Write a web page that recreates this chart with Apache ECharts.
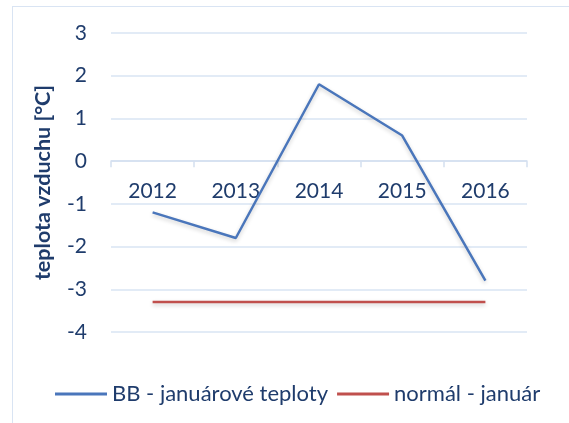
<!DOCTYPE html>
<html>
<head>
<meta charset="utf-8">
<script src="https://cdn.jsdelivr.net/npm/echarts@6/dist/echarts.min.js"></script>
<style>
  html, body { margin: 0; padding: 0; background: #fff; }
  #frame { position: absolute; left: 12px; top: 6px; width: 620px; height: 480px;
           border: 1.5px solid #d9e4f3; }
  #chart { position: absolute; left: 0; top: 0; width: 569px; height: 423px; }
</style>
</head>
<body>
<div id="frame"></div>
<div id="chart"></div>
<script>
// roky
var years = ['2012', '2013', '2014', '2015', '2016'];
// priemerne januarove teploty v BB
var bbJanuary = [-1.2, -1.8, 1.8, 0.6, -2.8];
// dlhodoby normal pre januar
var normalJanuary = [-3.3, -3.3, -3.3, -3.3, -3.3];
// rozsah osi y
var yMin = -4, yMax = 3;

var textColor = '#1f3c6c';
var fontFam = 'Lato, "Open Sans", sans-serif';

var gridTop = 33, gridBottom = 91, chartH = 423;
// os x lezi na nule -> posun od spodneho okraja mriezky
var plotH = chartH - gridTop - gridBottom;
var zeroOffset = -plotH * (0 - yMin) / (yMax - yMin);

var chart = echarts.init(document.getElementById('chart'));
var option = {
  animation: false,
  grid: { left: 111, right: 42, top: gridTop, bottom: gridBottom },
  legend: {
    top: 378,
    left: 50,
    itemWidth: 52,
    itemHeight: 3,
    itemGap: 9,
    icon: 'rect',
    textStyle: { color: textColor, fontSize: 22, fontFamily: fontFam },
    data: ['BB - januárové teploty', 'normál - január']
  },
  xAxis: {
    type: 'category',
    data: years,
    boundaryGap: true,
    position: 'bottom',
    offset: zeroOffset,
    axisLine: { onZero: false, lineStyle: { color: '#d4e0f0', width: 1.5 } },
    axisTick: { show: true, length: 6, lineStyle: { color: '#d4e0f0', width: 1.5 } },
    axisLabel: { color: textColor, fontSize: 21, fontFamily: fontFam, margin: 20 }
  },
  yAxis: {
    type: 'value',
    min: yMin,
    max: yMax,
    interval: 1,
    name: 'teplota vzduchu [°C]',
    nameLocation: 'middle',
    nameGap: 57,
    nameTextStyle: { color: textColor, fontSize: 21.5, fontWeight: 'bold', fontFamily: fontFam },
    axisLine: { show: false },
    axisTick: { show: false },
    axisLabel: { color: textColor, fontSize: 21, fontFamily: fontFam, margin: 24 },
    splitLine: { lineStyle: { color: '#d9e4f3', width: 1.5 } }
  },
  series: [
    {
      name: 'BB - januárové teploty',
      type: 'line',
      data: bbJanuary,
      symbol: 'none',
      itemStyle: { color: '#4a76bb' },
      lineStyle: { color: '#4a76bb', width: 2.5, shadowColor: 'rgba(0,0,0,0.2)', shadowBlur: 4, shadowOffsetY: 2 }
    },
    {
      name: 'normál - január',
      type: 'line',
      data: normalJanuary,
      symbol: 'none',
      itemStyle: { color: '#c0504d' },
      lineStyle: { color: '#c0504d', width: 2.5, shadowColor: 'rgba(0,0,0,0.2)', shadowBlur: 4, shadowOffsetY: 2 }
    }
  ]
};
chart.setOption(option);
</script>
</body>
</html>
